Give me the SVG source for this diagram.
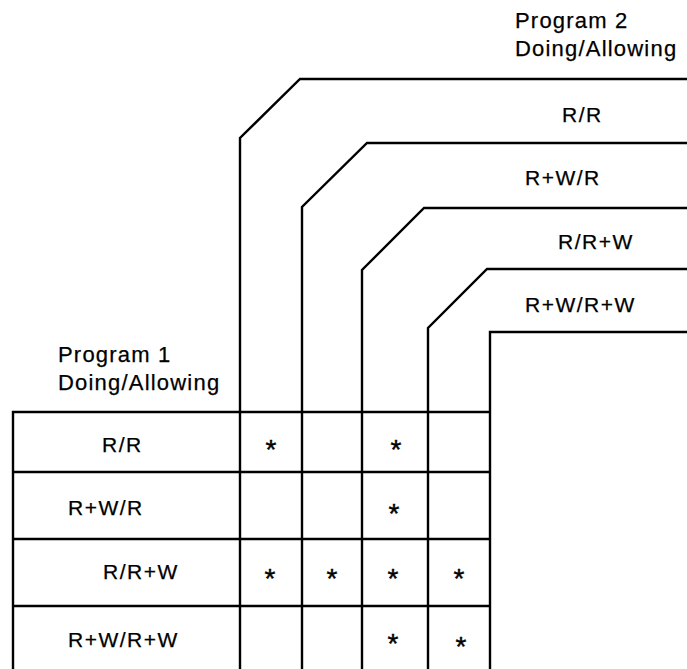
<svg xmlns="http://www.w3.org/2000/svg" width="687" height="669" viewBox="0 0 687 669">
<style>
.ln{fill:none;stroke:#000;stroke-width:2.4;stroke-linejoin:miter}
.hd{font-family:"Liberation Sans",Arial,sans-serif;font-size:22px;letter-spacing:1.2px;fill:#000;stroke:#000;stroke-width:0.25}
.lb{font-family:"Liberation Sans",Arial,sans-serif;font-size:21px;letter-spacing:1.5px;fill:#000;stroke:#000;stroke-width:0.25}
.st{font-family:"Liberation Sans",Arial,sans-serif;font-size:28px;fill:#000;text-anchor:middle;stroke:#000;stroke-width:0.4}
</style>
<rect width="687" height="669" fill="#fff"/>
<g id="program2-header">
<text class="hd" x="515" y="28">Program 2</text>
<text class="hd" x="515" y="56">Doing/Allowing</text>
</g>
<g id="program1-header">
<text class="hd" x="58" y="362">Program 1</text>
<text class="hd" x="58" y="390">Doing/Allowing</text>
</g>
<g id="p2-rr">
<path class="ln" d="M240,669 V138 L300,79 H687"/>
<text class="lb" x="562" y="122">R/R</text>
</g>
<g id="p2-rwr">
<path class="ln" d="M302,669 V207 L367,143 H687"/>
<text class="lb" x="525" y="185">R+W/R</text>
</g>
<g id="p2-rrw">
<path class="ln" d="M362,669 V270 L424,208 H687"/>
<text class="lb" x="558" y="249">R/R+W</text>
</g>
<g id="p2-rwrw">
<path class="ln" d="M428,669 V328 L487,269 H687"/>
<text class="lb" x="525" y="312">R+W/R+W</text>
</g>
<g id="p2-inner">
<path class="ln" d="M490,669 V332 H687"/>
</g>
<g id="p1-rows">
<path class="ln" d="M13,669 V412 H490 M13,472 H490 M13,539 H490 M13,606 H490"/>
<text class="lb" x="102" y="452">R/R</text>
<text class="lb" x="68" y="515">R+W/R</text>
<text class="lb" x="103" y="579">R/R+W</text>
<text class="lb" x="68" y="647">R+W/R+W</text>
</g>
<g id="cells">
<text class="st" x="271" y="459">*</text>
<text class="st" x="396" y="459">*</text>
<text class="st" x="394" y="523">*</text>
<text class="st" x="270" y="588">*</text>
<text class="st" x="332" y="588">*</text>
<text class="st" x="393" y="588">*</text>
<text class="st" x="459" y="588">*</text>
<text class="st" x="393" y="653">*</text>
<text class="st" x="461" y="656">*</text>
</g>
<g id="connectors"></g>
</svg>
